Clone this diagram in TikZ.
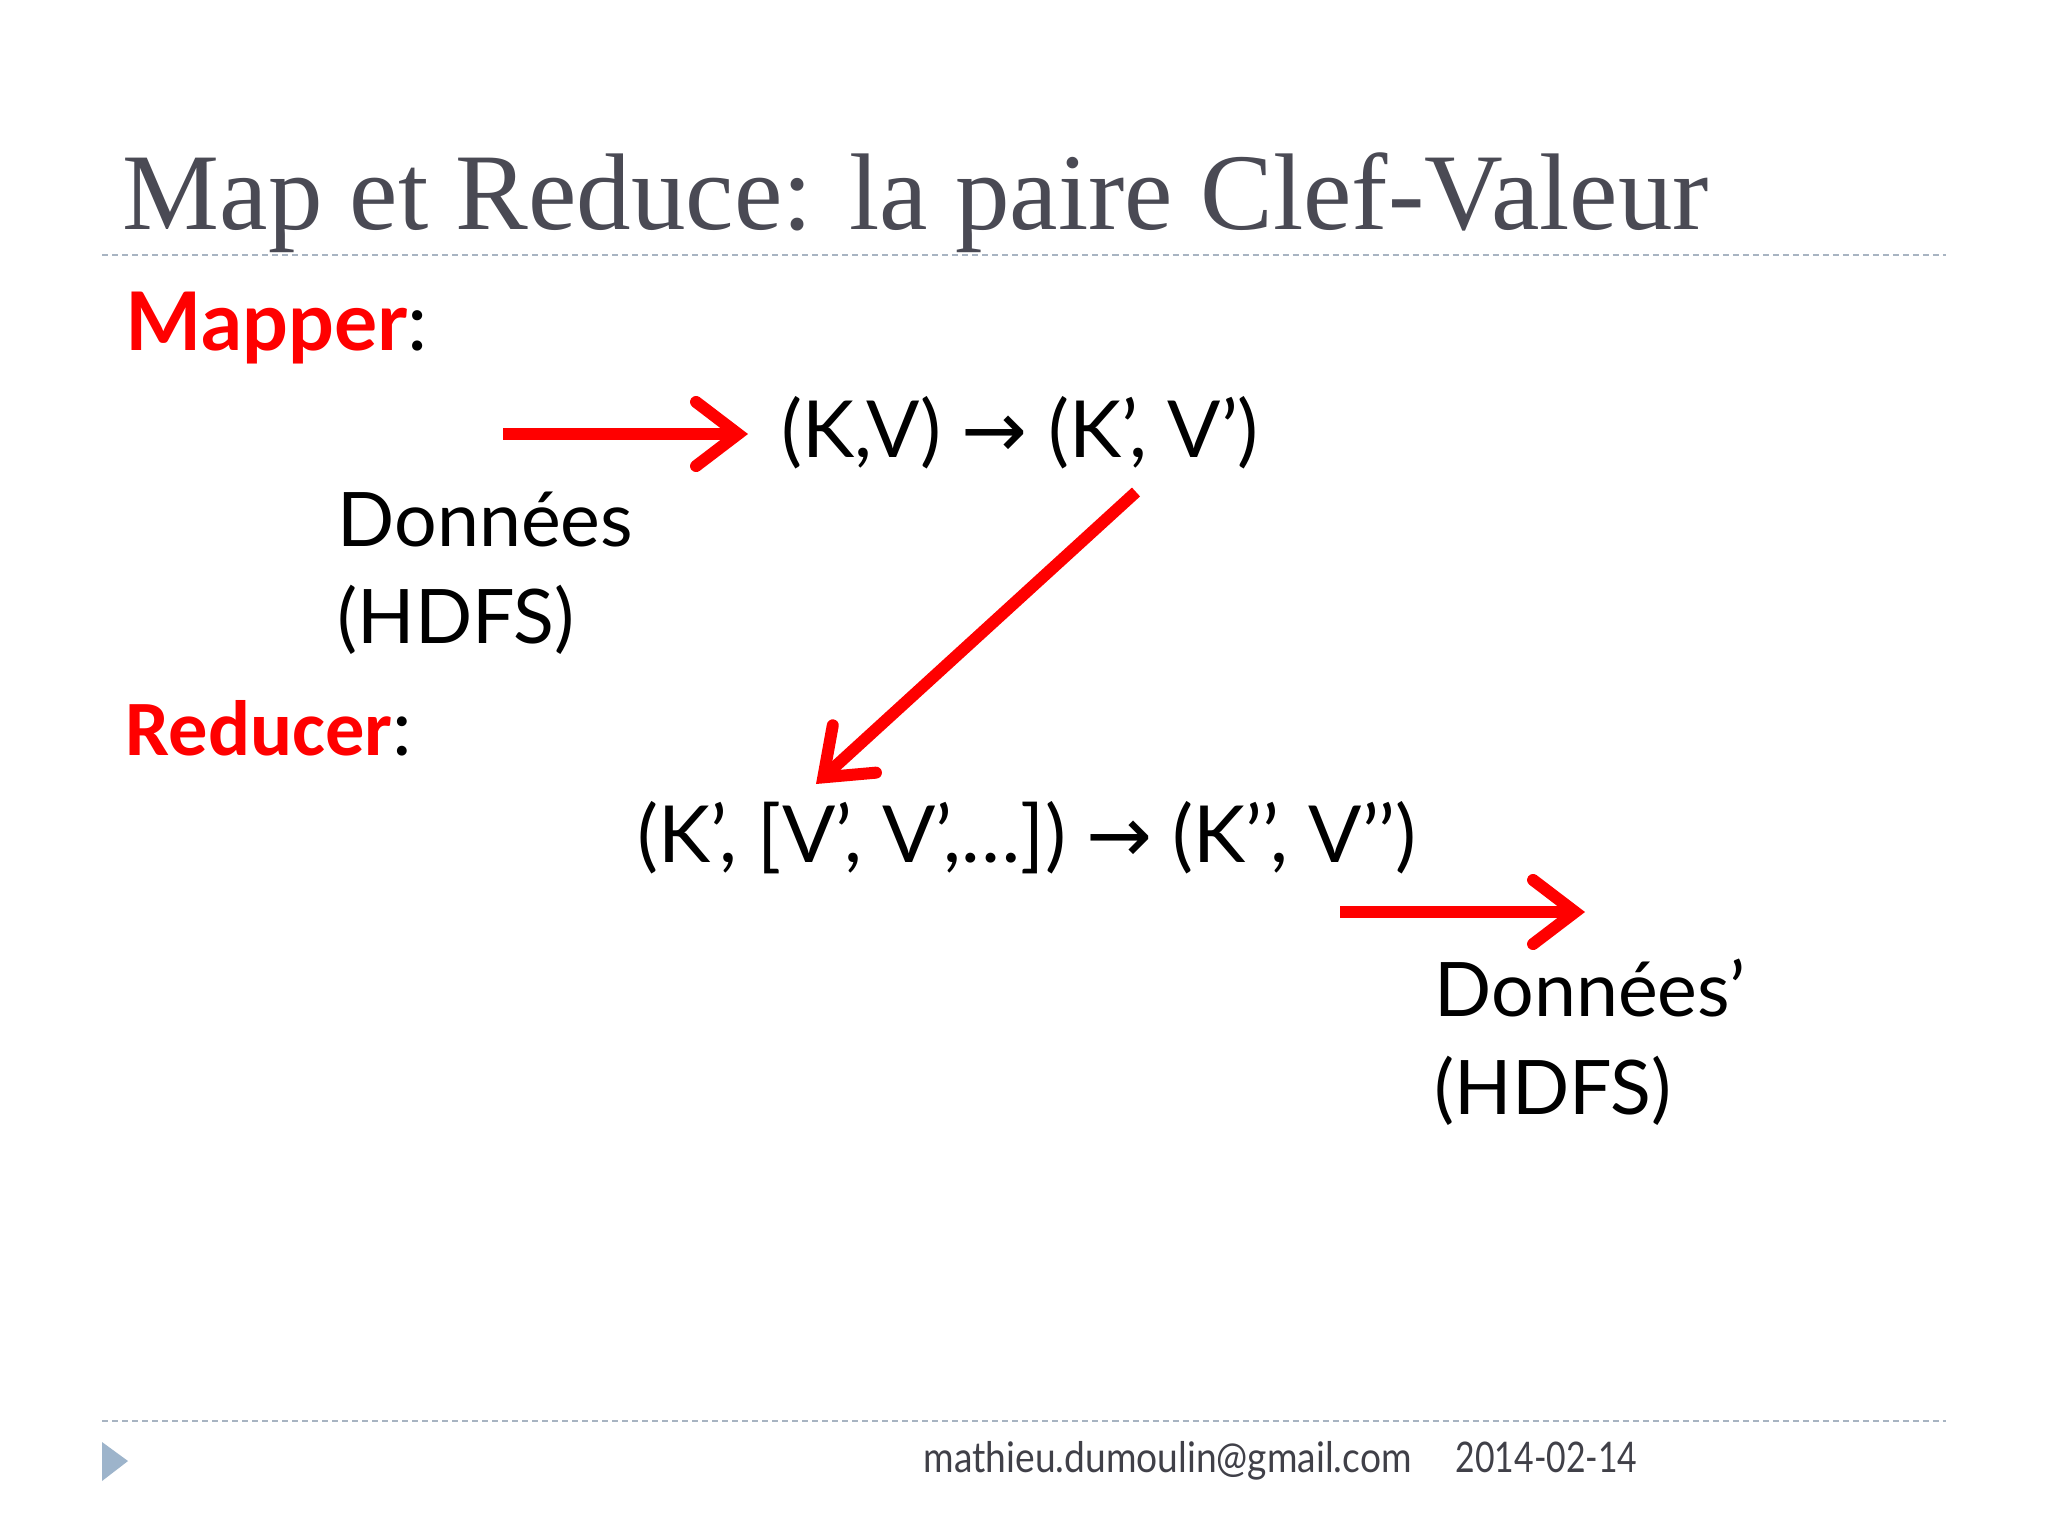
\documentclass[tikz,border=0pt]{standalone}
\usepackage{fontspec}
\setmainfont{Lato}
\newfontfamily\titlefont{Liberation Serif}
\newfontfamily\arrowfont{DejaVu Sans}
\newfontfamily\calfont{Carlito}
\usetikzlibrary{arrows.meta}
\definecolor{titlegray}{HTML}{4A4A54}
\definecolor{rulegray}{HTML}{A8B4C2}
\definecolor{trifill}{HTML}{9DB4CB}
\definecolor{myred}{HTML}{FF0000}
\definecolor{footgray}{HTML}{404048}
\begin{document}
\begin{tikzpicture}[x=0.01cm,y=-0.01cm,
  redarrow/.style={draw=myred, line width=0.12cm,
    -{Straight Barb[length=0.42cm,width=0.64cm,line cap=round,line join=miter]}},
  rulestyle/.style={draw=rulegray, line width=0.025cm, dash pattern=on 0.06cm off 0.04cm},
  titletext/.style={anchor=base west, inner sep=0pt, text=titlegray, font=\titlefont\fontsize{31}{37}\selectfont},
  bodytext/.style={anchor=base west, inner sep=0pt, text=black, font=\fontsize{21.4}{26}\selectfont},
  formtext/.style={anchor=base west, inner sep=0pt, text=black, font=\fontsize{22.4}{27}\selectfont},
  mapfont/.style={anchor=base west, inner sep=0pt, text=black, font=\fontsize{23}{27}\selectfont},
  redfont/.style={anchor=base west, inner sep=0pt, text=black, font=\fontsize{22.3}{27}\selectfont},
  foottext/.style={anchor=base west, inner sep=0pt, text=footgray, font=\fontsize{12}{14}\selectfont}]
\useasboundingbox[fill=white] (0,0) rectangle (2048,1536);
% title
\node[titletext] (title) at (122,229) {Map et Reduce: la paire Clef-Valeur};
\draw[rulestyle] (102,255) -- (1946,255);
% mapper
\node[mapfont] (mapper) at (125,350) {{\bfseries\color{myred}Mapper}:};
\node[formtext] (kv) at (781,457) {(K,V) {\arrowfont →} (K’, V’)};
\node[bodytext] (don1) at (337,546) {Données};
\node[bodytext] (hdfs1) at (337,643) {(HDFS)};
% reducer
\node[redfont] (reducer) at (125,755) {{\calfont\bfseries\color{myred}Reducer}:};
\node[formtext] (kvl) at (637,862) {(K’, [V’, V’,…]) {\arrowfont →} (K’’, V’’)};
\node[bodytext] (don2) at (1434,1016) {Données’};
\node[bodytext] (hdfs2) at (1434,1114) {(HDFS)};
% arrows
\coordinate (a1s) at (503,434);
\coordinate (a1e) at (748,434);
\coordinate (a2s) at (1136,492);
\coordinate (a2e) at (816,784);
\coordinate (a3s) at (1340,912);
\coordinate (a3e) at (1585,912);
\draw[redarrow] (a1s) -- (a1e);
\draw[redarrow] (a2s) -- (a2e);
\draw[redarrow] (a3s) -- (a3e);
% footer
\draw[rulestyle] (102,1421) -- (1946,1421);
\fill[trifill] (102,1442) -- (128,1461) -- (102,1481) -- cycle;
\node[foottext] (email) at (923,1472) {\scalebox{0.88}[1]{mathieu.dumoulin@gmail.com}};
\node[foottext] (date) at (1455,1472) {\scalebox{0.8}[1]{2014-02-14}};
\end{tikzpicture}
\end{document}
